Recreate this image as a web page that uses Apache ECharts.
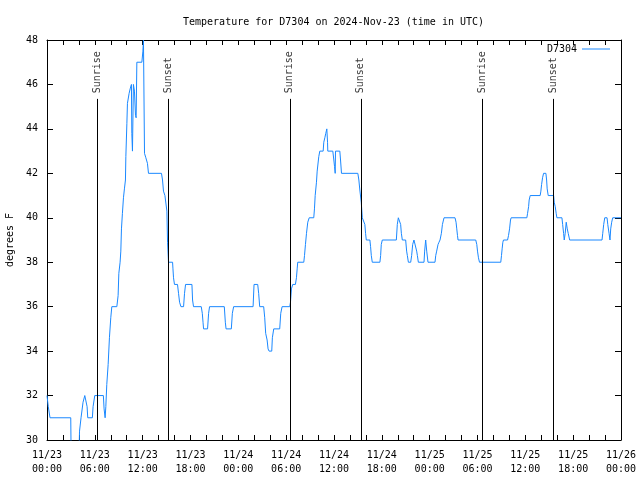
<!DOCTYPE html>
<html>
<head>
<meta charset="utf-8">
<script src="https://cdn.jsdelivr.net/npm/echarts@6/dist/echarts.min.js"></script>
<style>html,body{margin:0;padding:0;background:#fff}#c{width:640px;height:480px}</style>
</head>
<body>
<div id="c"></div>
<script>
// hours since 2024-11-23 00:00 UTC
var hours = [0.00,0.16,0.38,2.98,3.02,4.02,4.08,4.27,4.52,4.74,4.90,5.03,5.11,5.69,5.78,5.99,7.07,7.16,7.29,7.38,7.50,7.67,7.83,8.00,8.13,8.76,8.92,9.01,9.17,9.26,9.34,9.46,9.59,9.71,9.84,9.89,10.02,10.09,10.30,10.43,10.59,10.64,10.72,10.84,10.97,11.10,11.18,11.27,11.90,12.03,12.10,12.14,12.23,12.40,12.60,12.73,14.36,14.49,14.61,14.79,15.04,15.12,15.24,15.75,15.80,15.87,15.99,16.37,16.50,16.63,16.80,17.13,17.25,17.38,18.18,18.26,18.38,19.35,19.48,19.57,19.64,20.14,20.27,20.39,22.24,22.37,22.46,23.12,23.25,23.41,25.85,25.97,26.43,26.55,26.68,27.18,27.31,27.43,27.61,27.73,27.86,28.19,28.27,28.44,29.19,29.32,29.49,30.45,30.54,30.66,30.82,31.16,31.29,31.38,31.45,32.21,32.30,32.42,32.55,32.71,32.89,33.46,33.55,33.64,33.80,33.89,34.09,34.22,34.64,34.72,34.85,34.97,35.10,35.19,35.22,35.85,35.98,36.07,36.15,36.19,36.73,36.82,36.94,38.99,39.12,39.24,39.42,39.55,39.75,39.87,39.96,40.05,40.50,40.59,40.68,40.80,41.76,41.85,41.93,42.06,43.82,43.94,44.07,44.27,44.36,44.45,44.57,44.99,45.11,45.20,45.33,45.62,45.74,45.87,46.03,46.24,46.37,46.46,46.58,47.29,47.37,47.50,47.63,47.79,48.67,48.76,48.88,49.05,49.17,49.30,49.47,49.60,49.80,51.18,51.31,51.40,51.49,51.56,53.78,53.91,54.00,54.12,54.25,56.92,57.01,57.09,57.18,57.26,57.77,57.89,58.02,58.14,58.22,60.19,60.28,60.41,60.48,60.61,61.86,61.95,62.04,62.16,62.29,62.58,62.67,62.74,62.87,63.55,63.62,63.75,63.87,63.96,64.59,64.68,64.80,64.88,65.00,65.13,65.26,65.38,65.56,69.62,69.71,69.83,69.96,70.25,70.34,70.50,70.62,70.71,70.83,70.96,72.00];
var temps = [32,31.5,31,31,29.5,29.5,30.4,31,31.7,32,32,31.5,31,31,31.5,32,32,31.4,31,31.5,32.5,33.4,34.6,35.5,36,36,36.5,37.5,38,38.5,39.5,40.2,40.9,41.3,41.7,42.75,44.25,45.15,45.6,45.8,46,43.8,43,46,45.7,44.6,44.5,47,47,47.5,48,48,42.9,42.7,42.45,42,42,41.7,41.2,41,40.3,38.9,38,38,37.7,37.3,37,37,36.6,36.2,36,36,36.6,37,37,36.3,36,36,35.7,35.3,35,35,35.7,36,36,35.3,35,35,35.7,36,36,37,37,36.6,36,36,35.5,34.8,34.5,34.1,34,34,34.6,35,35,35.7,36,36,36.2,36.8,37,37,37.3,37.7,38,38,38.3,38.8,39.3,39.8,40,40,40.4,41,41.6,42.1,42.75,43,43,43.4,43.6,43.8,44,43.4,43,43,42.6,42.3,42,43,43,42.6,42,42,41.7,41.25,40.7,40,40,39.7,39.3,39,39,38.7,38.3,38,38,38.3,38.8,39,39,39.7,40,40,39.7,39.3,39,39,38.5,38.3,38,38,38.3,38.8,39,39,38.5,38.3,38,38,38.5,39,38.5,38,38,38.3,38.5,38.8,38.9,39,39.3,39.7,40,40,39.8,39.5,39.2,39,39,38.8,38.5,38.2,38,38,38.3,38.6,38.9,39,39,39.2,39.5,39.9,40,40,40.2,40.5,40.8,41,41,41.2,41.5,41.8,42,42,41.7,41.3,41,41,40.7,40.5,40.2,40,40,39.7,39.3,39,39.3,39.8,39.5,39.3,39,39,39.3,39.7,40,40,39.7,39.3,39,39.5,39.8,40,40];
var sunNames = ['Sunrise','Sunset','Sunrise','Sunset','Sunrise','Sunset'];
var sunHours = [6.32,15.24,30.45,39.37,54.62,63.50];
var sunLineTop = 45.35;
var sunLabelAt = 45.6;
var yTicks = [30,32,34,36,38,40,42,44,46,48];
var seriesName = 'D7304';
var titleText = 'Temperature for D7304 on 2024-Nov-23 (time in UTC)';
var yName = 'degrees F';

var FONT = 'DejaVu Sans Mono';
function pad(n){return (n<10?'0':'')+n;}
function fmtX(v){
  if (Math.abs(v % 6) > 1e-6) return '';
  var day = 23 + Math.floor(v/24);
  var hh = Math.round(v % 24);
  return '11/' + day + '\n' + pad(hh) + ':00';
}
var lineData = hours.map(function(h,i){return [h, temps[i]];});
var markData = sunHours.map(function(h){return [{coord:[h,30]},{coord:[h,sunLineTop]}];});
var labelData = sunHours.map(function(h,i){return [h, sunLabelAt, sunNames[i]];});

var chart = echarts.init(document.getElementById('c'), null, {renderer:'canvas'});
chart.setOption({
  animation:false,
  backgroundColor:'#ffffff',
  title:{text:titleText,left:178,top:12,textStyle:{fontFamily:FONT,fontSize:10,fontWeight:'normal',color:'#000'}},
  legend:{data:[{name:seriesName,icon:'rect'}],right:25,top:39,align:'right',itemWidth:28,itemHeight:1,
    textStyle:{fontFamily:FONT,fontSize:10,color:'#000'}},
  grid:{left:47,right:19,top:40,bottom:40,show:false,containLabel:false,outerBoundsMode:'none'},
  xAxis:[{type:'value',min:0,max:72,interval:2,
    axisLine:{show:true,onZero:false,lineStyle:{color:'#000',width:1}},
    axisTick:{show:true,inside:true,length:5,lineStyle:{color:'#000'}},
    axisLabel:{formatter:fmtX,fontFamily:FONT,fontSize:10,color:'#000',margin:8,lineHeight:14,showMinLabel:true,showMaxLabel:true,hideOverlap:false},
    splitLine:{show:false}},
   {type:'value',position:'top',min:0,max:72,interval:2,
    axisLine:{show:true,onZero:false,lineStyle:{color:'#000',width:1}},
    axisTick:{show:true,inside:true,length:5,lineStyle:{color:'#000'}},
    axisLabel:{show:false},splitLine:{show:false}}],
  yAxis:[{type:'value',min:30,max:48,interval:2,name:yName,nameLocation:'middle',nameGap:32,nameRotate:90,
    nameTextStyle:{fontFamily:FONT,fontSize:10,color:'#000'},
    axisLine:{show:true,onZero:false,lineStyle:{color:'#000',width:1}},
    axisTick:{show:true,inside:true,length:6,lineStyle:{color:'#000'}},
    axisLabel:{fontFamily:FONT,fontSize:10,color:'#000',margin:9,formatter:function(v){return yTicks.indexOf(v)>=0?String(v):'';}},
    splitLine:{show:false}},
   {type:'value',position:'right',min:30,max:48,interval:2,
    axisLine:{show:true,onZero:false,lineStyle:{color:'#000',width:1}},
    axisTick:{show:true,inside:true,length:6,lineStyle:{color:'#000'}},
    axisLabel:{show:false},splitLine:{show:false}}],
  series:[
    {name:seriesName,type:'line',data:lineData,showSymbol:false,symbol:'none',clip:true,
     lineStyle:{color:'#1a88ff',width:1},itemStyle:{color:'#1a88ff'},
     markLine:{silent:true,symbol:['none','none'],label:{show:false},
       lineStyle:{color:'#000',width:1,type:'solid'},data:markData}},
    {type:'scatter',data:labelData,symbolSize:0,silent:true,
     label:{show:true,position:'inside',rotate:90,align:'left',verticalAlign:'middle',
       formatter:function(p){return p.value[2];},fontFamily:FONT,fontSize:10,color:'#000'}}
  ]
});
</script>
</body>
</html>
